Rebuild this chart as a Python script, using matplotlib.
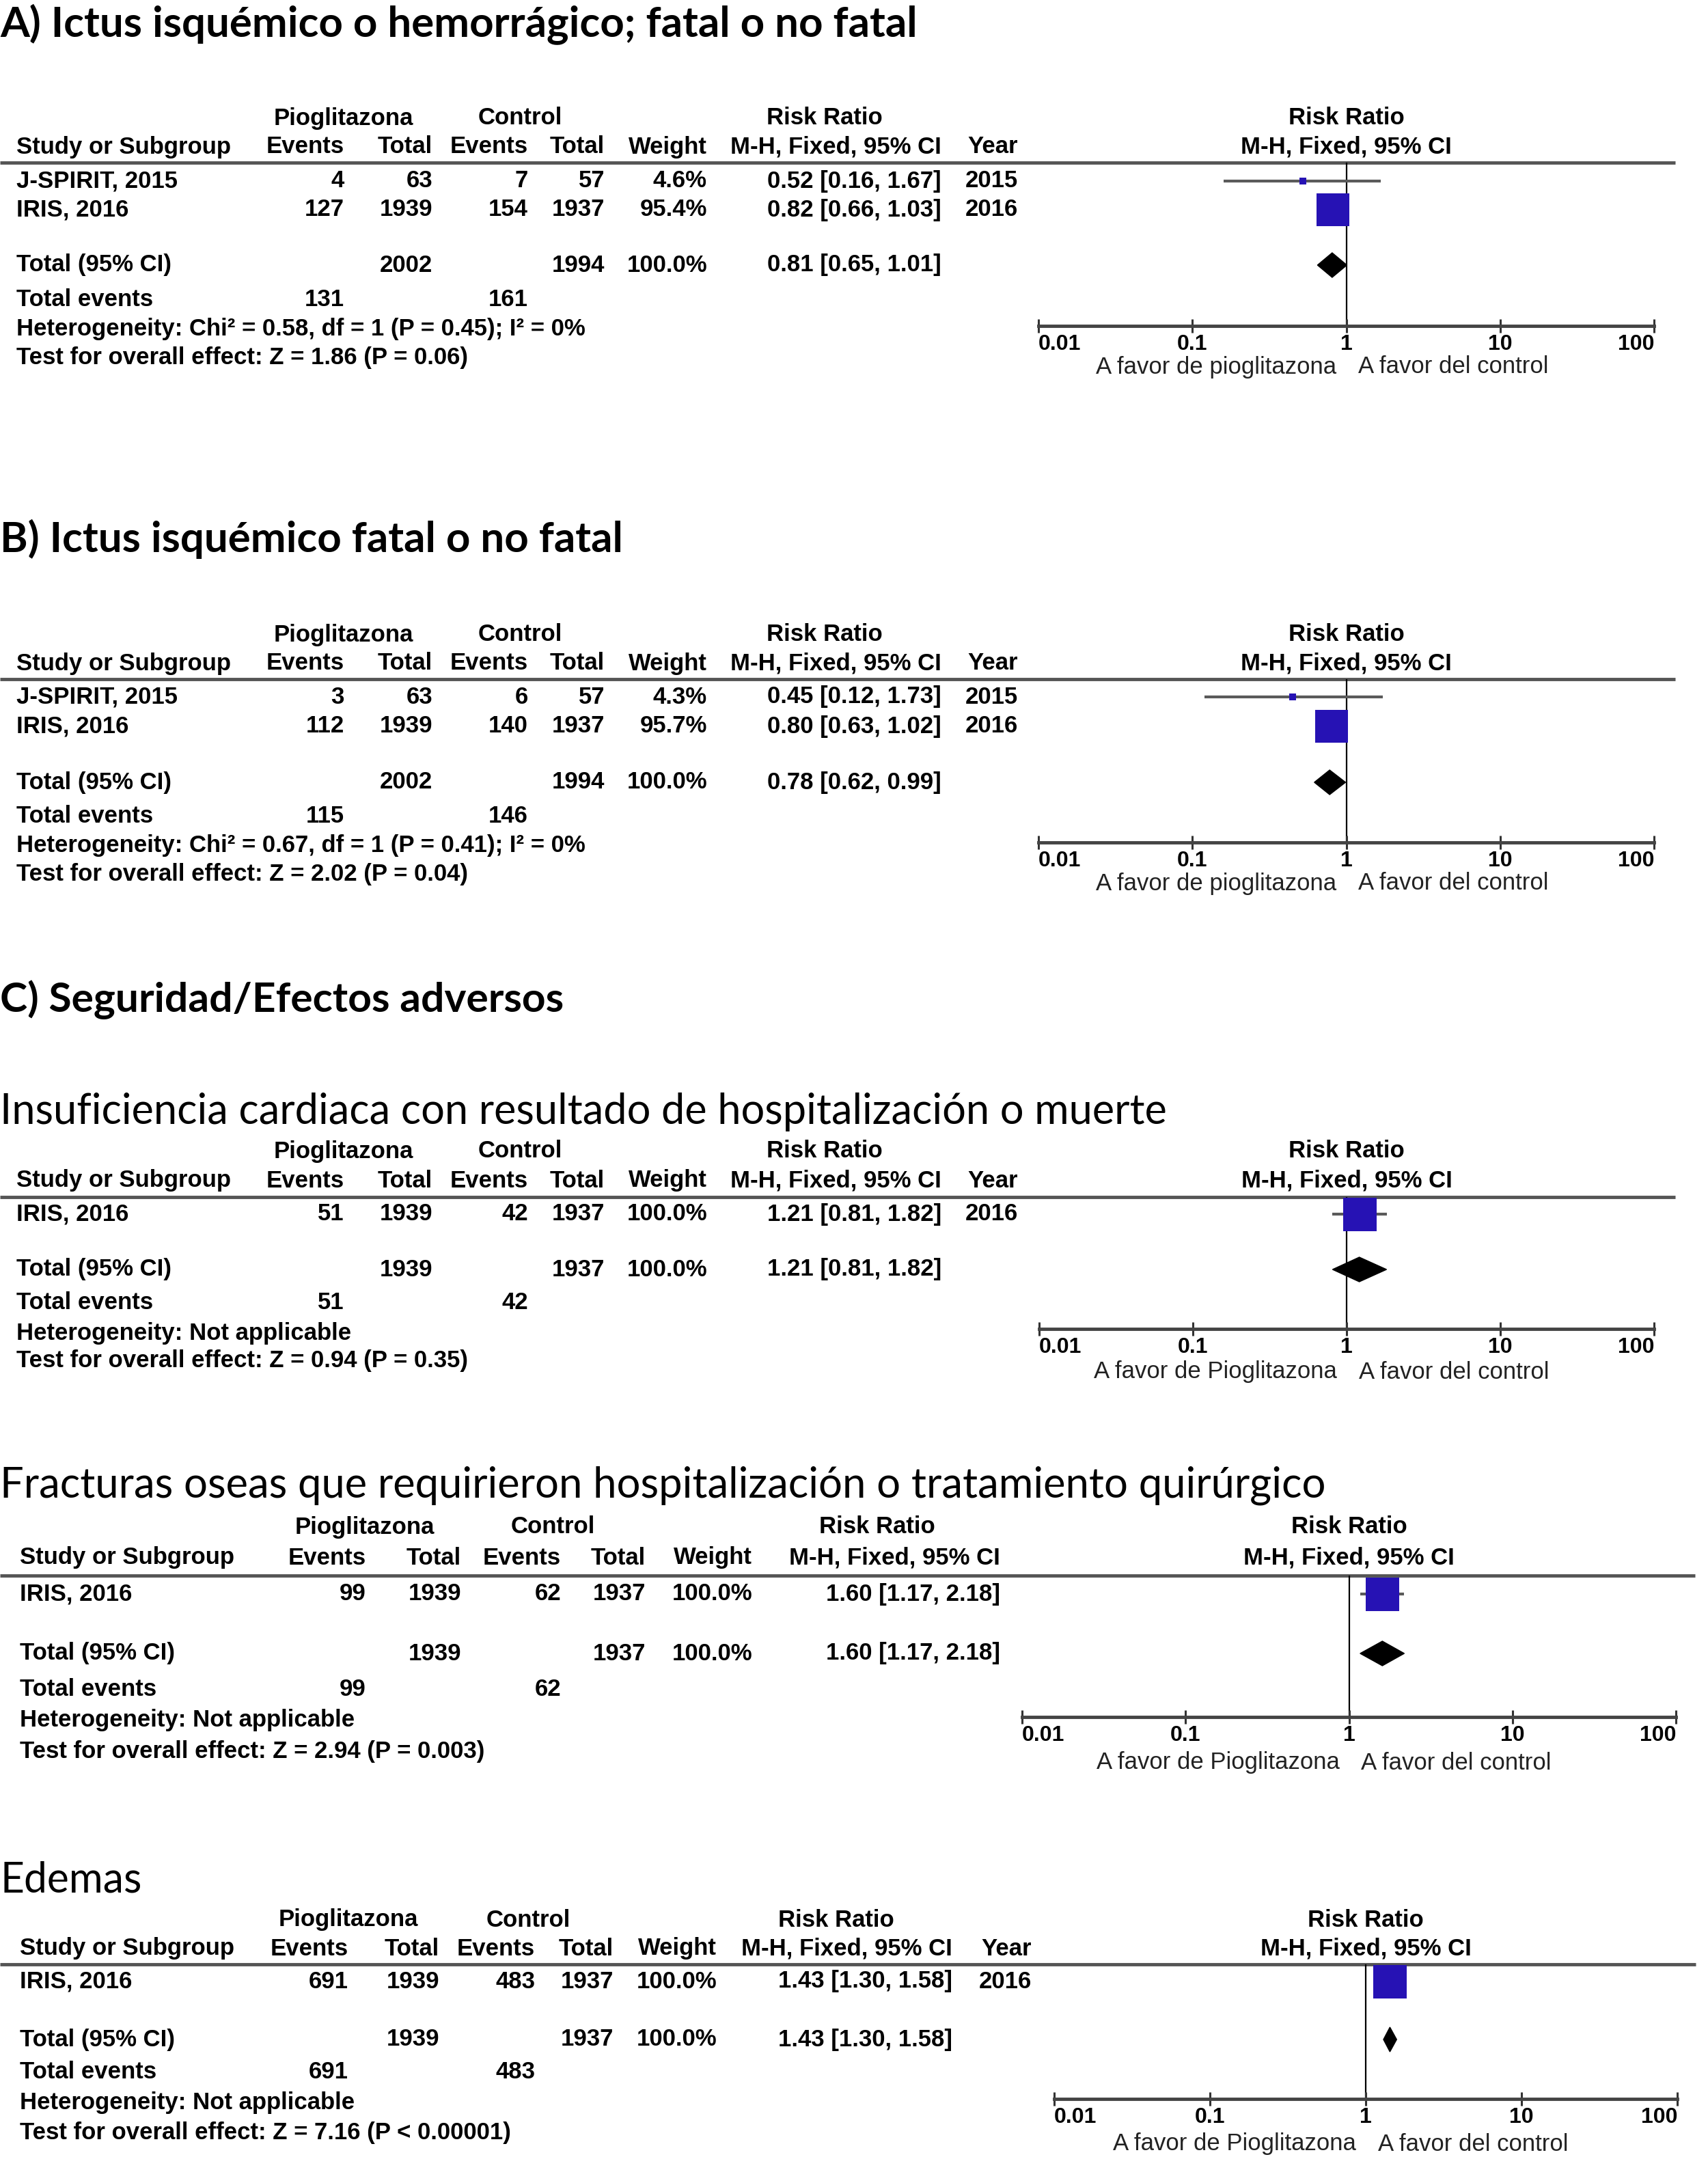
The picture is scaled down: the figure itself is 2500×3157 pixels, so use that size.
import matplotlib
matplotlib.use("Agg")
import matplotlib.pyplot as plt
from matplotlib.patches import Polygon
from matplotlib.ticker import NullLocator

W, H = 2500, 3157
BLUE = "#2612b4"
TABLE_FONT = ["Liberation Sans", "DejaVu Sans"]
TITLE_FONT = ["Lato", "DejaVu Sans"]
FS = 25

# ---------------- data ----------------
# A) stroke (ischaemic or haemorrhagic)
a_studies = ["J-SPIRIT, 2015", "IRIS, 2016"]
a_pio_events = [4, 127]
a_pio_total = [63, 1939]
a_ctl_events = [7, 154]
a_ctl_total = [57, 1937]
a_weight = [4.6, 95.4]
a_rr = [0.52, 0.82]
a_lo = [0.16, 0.66]
a_hi = [1.67, 1.03]
a_year = [2015, 2016]
a_pooled = [0.81, 0.65, 1.01]
a_totals = [2002, 1994]
a_total_events = [131, 161]
a_het = "Heterogeneity: Chi² = 0.58, df = 1 (P = 0.45); I² = 0%"
a_test = "Test for overall effect: Z = 1.86 (P = 0.06)"

# B) ischaemic stroke
b_studies = ["J-SPIRIT, 2015", "IRIS, 2016"]
b_pio_events = [3, 112]
b_pio_total = [63, 1939]
b_ctl_events = [6, 140]
b_ctl_total = [57, 1937]
b_weight = [4.3, 95.7]
b_rr = [0.45, 0.80]
b_lo = [0.12, 0.63]
b_hi = [1.73, 1.02]
b_year = [2015, 2016]
b_pooled = [0.78, 0.62, 0.99]
b_totals = [2002, 1994]
b_total_events = [115, 146]
b_het = "Heterogeneity: Chi² = 0.67, df = 1 (P = 0.41); I² = 0%"
b_test = "Test for overall effect: Z = 2.02 (P = 0.04)"

# C1) heart failure
hf_studies = ["IRIS, 2016"]
hf_pio_events = [51]
hf_pio_total = [1939]
hf_ctl_events = [42]
hf_ctl_total = [1937]
hf_weight = [100.0]
hf_rr = [1.21]
hf_lo = [0.81]
hf_hi = [1.82]
hf_year = [2016]
hf_pooled = [1.21, 0.81, 1.82]
hf_totals = [1939, 1937]
hf_total_events = [51, 42]
hf_het = "Heterogeneity: Not applicable"
hf_test = "Test for overall effect: Z = 0.94 (P = 0.35)"

# C2) bone fractures
fx_studies = ["IRIS, 2016"]
fx_pio_events = [99]
fx_pio_total = [1939]
fx_ctl_events = [62]
fx_ctl_total = [1937]
fx_weight = [100.0]
fx_rr = [1.60]
fx_lo = [1.17]
fx_hi = [2.18]
fx_year = None
fx_pooled = [1.60, 1.17, 2.18]
fx_totals = [1939, 1937]
fx_total_events = [99, 62]
fx_het = "Heterogeneity: Not applicable"
fx_test = "Test for overall effect: Z = 2.94 (P = 0.003)"

# C3) oedema
ed_studies = ["IRIS, 2016"]
ed_pio_events = [691]
ed_pio_total = [1939]
ed_ctl_events = [483]
ed_ctl_total = [1937]
ed_weight = [100.0]
ed_rr = [1.43]
ed_lo = [1.30]
ed_hi = [1.58]
ed_year = [2016]
ed_pooled = [1.43, 1.30, 1.58]
ed_totals = [1939, 1937]
ed_total_events = [691, 483]
ed_het = "Heterogeneity: Not applicable"
ed_test = "Test for overall effect: Z = 7.16 (P < 0.00001)"

ticks = [0.01, 0.1, 1, 10, 100]
tick_labels = ["0.01", "0.1", "1", "10", "100"]

# ---------------- layout (pixels) ----------------
cols_std = dict(study=24, pe=504, pt=633, ce=773, ct=885, w=1035, rr=1378,
                year=1490, pio_c=503, ctl_c=761, rr_c=1207)
cols_fx = dict(study=29, pe=536, pt=675, ce=821, ct=945, w=1101, rr=1464,
               year=None, pio_c=534, ctl_c=809, rr_c=1284)
cols_ed = dict(study=29, pe=510, pt=643, ce=783, ct=898, w=1049, rr=1394,
               year=1510, pio_c=510, ctl_c=773, rr_c=1224)

lay_a = dict(cols=cols_std, h1=173, h2=215, line=238, rows=[265, 307], total=388,
             te=438, het=482, test=523, axis=477, favor=537, f0=1520, f1=2421, line_end=2452)
lay_b = dict(cols=cols_std, h1=929, h2=971, line=994, rows=[1020, 1063], total=1145,
             te=1194, het=1238, test=1279, axis=1233, favor=1293, f0=1520, f1=2421, line_end=2452)
lay_hf = dict(cols=cols_std, h1=1685, h2=1728, line=1752, rows=[1777], total=1858,
              te=1907, het=1952, test=1992, axis=1945, favor=2008, f0=1521, f1=2421, line_end=2452)
lay_fx = dict(cols=cols_fx, h1=2235, h2=2280, line=2306, rows=[2333], total=2420,
              te=2472, het=2518, test=2563, axis=2513, favor=2580, f0=1496, f1=2453, line_end=2481)
lay_ed = dict(cols=cols_ed, h1=2810, h2=2852, line=2875, rows=[2900], total=2985,
              te=3033, het=3078, test=3122, axis=3072, favor=3138, f0=1543, f1=2455, line_end=2482)

fig = plt.figure(figsize=(W / 100, H / 100), dpi=100)
bg = fig.add_axes([0, 0, 1, 1])
bg.set_xlim(0, W)
bg.set_ylim(H, 0)
bg.axis("off")
renderer = fig.canvas.get_renderer()


def title(text, y, target_w, bold=True):
    t = bg.text(0, y, text, ha="left", va="center", family=TITLE_FONT,
                fontweight="bold" if bold else "normal", fontsize=40, color="black")
    w = t.get_window_extent(renderer).width
    t.set_fontsize(40 * target_w / w)


def draw_panel(lay, studies, pe, pt, ce, ct, wt, rr, lo, hi, year,
               pooled, totals, tot_ev, het, test, favor_left):
    c = lay["cols"]
    kw = dict(fontsize=FS, fontweight="bold", family=TABLE_FONT, color="black", va="center")

    # column headers
    bg.text(c["pio_c"], lay["h1"], "Pioglitazona", ha="center", **kw)
    bg.text(c["ctl_c"], lay["h1"], "Control", ha="center", **kw)
    bg.text(c["rr_c"], lay["h1"], "Risk Ratio", ha="center", **kw)
    bg.text(c["study"], lay["h2"], "Study or Subgroup", ha="left", **kw)
    bg.text(c["pe"], lay["h2"], "Events", ha="right", **kw)
    bg.text(c["pt"], lay["h2"], "Total", ha="right", **kw)
    bg.text(c["ce"], lay["h2"], "Events", ha="right", **kw)
    bg.text(c["ct"], lay["h2"], "Total", ha="right", **kw)
    bg.text(c["w"], lay["h2"], "Weight", ha="right", **kw)
    bg.text(c["rr"], lay["h2"], "M-H, Fixed, 95% CI", ha="right", **kw)
    if c["year"] is not None:
        bg.text(c["year"], lay["h2"], "Year", ha="right", **kw)

    fmid = (lay["f0"] + lay["f1"]) / 2
    bg.text(fmid, lay["h1"], "Risk Ratio", ha="center", **kw)
    bg.text(fmid, lay["h2"], "M-H, Fixed, 95% CI", ha="center", **kw)

    bg.plot([0, lay["line_end"]], [lay["line"], lay["line"]], color="#555555",
            lw=3.5, solid_capstyle="butt")

    # study rows
    for i, y in enumerate(lay["rows"]):
        bg.text(c["study"], y, studies[i], ha="left", **kw)
        bg.text(c["pe"], y, f"{pe[i]}", ha="right", **kw)
        bg.text(c["pt"], y, f"{pt[i]}", ha="right", **kw)
        bg.text(c["ce"], y, f"{ce[i]}", ha="right", **kw)
        bg.text(c["ct"], y, f"{ct[i]}", ha="right", **kw)
        bg.text(c["w"], y, f"{wt[i]:.1f}%", ha="right", **kw)
        bg.text(c["rr"], y, f"{rr[i]:.2f} [{lo[i]:.2f}, {hi[i]:.2f}]", ha="right", **kw)
        if year is not None:
            bg.text(c["year"], y, f"{year[i]}", ha="right", **kw)

    # totals
    bg.text(c["study"], lay["total"], "Total (95% CI)", ha="left", **kw)
    bg.text(c["pt"], lay["total"], f"{totals[0]}", ha="right", **kw)
    bg.text(c["ct"], lay["total"], f"{totals[1]}", ha="right", **kw)
    bg.text(c["w"], lay["total"], "100.0%", ha="right", **kw)
    bg.text(c["rr"], lay["total"], f"{pooled[0]:.2f} [{pooled[1]:.2f}, {pooled[2]:.2f}]",
            ha="right", **kw)
    bg.text(c["study"], lay["te"], "Total events", ha="left", **kw)
    bg.text(c["pe"], lay["te"], f"{tot_ev[0]}", ha="right", **kw)
    bg.text(c["ce"], lay["te"], f"{tot_ev[1]}", ha="right", **kw)
    bg.text(c["study"], lay["het"], het, ha="left", **kw)
    bg.text(c["study"], lay["test"], test, ha="left", **kw)

    # forest plot
    top, bot = lay["line"], lay["axis"]
    ax = fig.add_axes([lay["f0"] / W, 1 - bot / H, (lay["f1"] - lay["f0"]) / W, (bot - top) / H])
    ax.set_xscale("log")
    ax.set_xlim(0.01, 100)
    ax.set_ylim(bot, top)
    ax.patch.set_alpha(0)
    for s in ["top", "left", "right"]:
        ax.spines[s].set_visible(False)
    ax.spines["bottom"].set_linewidth(3.5)
    ax.spines["bottom"].set_color("#444444")
    ax.set_yticks([])
    ax.set_xticks(ticks)
    ax.set_xticklabels(tick_labels)
    ax.xaxis.set_minor_locator(NullLocator())
    ax.tick_params(axis="x", direction="inout", length=15, width=2.2, color="#333333",
                   pad=1, labelsize=23)
    labs = ax.get_xticklabels()
    for lab in labs:
        lab.set_fontfamily(TABLE_FONT)
        lab.set_fontweight("bold")
    labs[0].set_horizontalalignment("left")
    labs[-1].set_horizontalalignment("right")

    ax.axvline(1, color="black", lw=1.6, zorder=1)

    for i, y in enumerate(lay["rows"]):
        ax.hlines(y, lo[i], hi[i], color="#5a5a5a", lw=3, zorder=2)
        side_px = 49 * (wt[i] / 100) ** 0.5
        ax.plot(rr[i], y, marker="s", ms=side_px * 72 / 100, color=BLUE, mew=0,
                ls="none", zorder=3, clip_on=False)

    yt = lay["total"]
    half = 18
    ax.add_patch(Polygon([(pooled[1], yt), (pooled[0], yt - half), (pooled[2], yt),
                          (pooled[0], yt + half)], closed=True, fc="black", ec="black",
                         lw=1, zorder=3))

    # favours labels
    fkw = dict(fontsize=25, family=TABLE_FONT, color="#222222", va="center")
    bg.text(fmid - 14, lay["favor"], favor_left, ha="right", **fkw)
    bg.text(fmid + 18, lay["favor"], "A favor del control", ha="left", **fkw)


title("A) Ictus isquémico o hemorrágico; fatal o no fatal", 36, 1340)
draw_panel(lay_a, a_studies, a_pio_events, a_pio_total, a_ctl_events, a_ctl_total,
           a_weight, a_rr, a_lo, a_hi, a_year, a_pooled, a_totals, a_total_events,
           a_het, a_test, "A favor de pioglitazona")

title("B) Ictus isquémico fatal o no fatal", 789, 910)
draw_panel(lay_b, b_studies, b_pio_events, b_pio_total, b_ctl_events, b_ctl_total,
           b_weight, b_rr, b_lo, b_hi, b_year, b_pooled, b_totals, b_total_events,
           b_het, b_test, "A favor de pioglitazona")

title("C) Seguridad/Efectos adversos", 1463, 824)

title("Insuficiencia cardiaca con resultado de hospitalización o muerte", 1627, 1705, bold=False)
draw_panel(lay_hf, hf_studies, hf_pio_events, hf_pio_total, hf_ctl_events, hf_ctl_total,
           hf_weight, hf_rr, hf_lo, hf_hi, hf_year, hf_pooled, hf_totals, hf_total_events,
           hf_het, hf_test, "A favor de Pioglitazona")

title("Fracturas oseas que requirieron hospitalización o tratamiento quirúrgico", 2174, 1936,
      bold=False)
draw_panel(lay_fx, fx_studies, fx_pio_events, fx_pio_total, fx_ctl_events, fx_ctl_total,
           fx_weight, fx_rr, fx_lo, fx_hi, fx_year, fx_pooled, fx_totals, fx_total_events,
           fx_het, fx_test, "A favor de Pioglitazona")

title("Edemas", 2752, 207, bold=False)
draw_panel(lay_ed, ed_studies, ed_pio_events, ed_pio_total, ed_ctl_events, ed_ctl_total,
           ed_weight, ed_rr, ed_lo, ed_hi, ed_year, ed_pooled, ed_totals, ed_total_events,
           ed_het, ed_test, "A favor de Pioglitazona")

fig.savefig("out.png", dpi=100)
